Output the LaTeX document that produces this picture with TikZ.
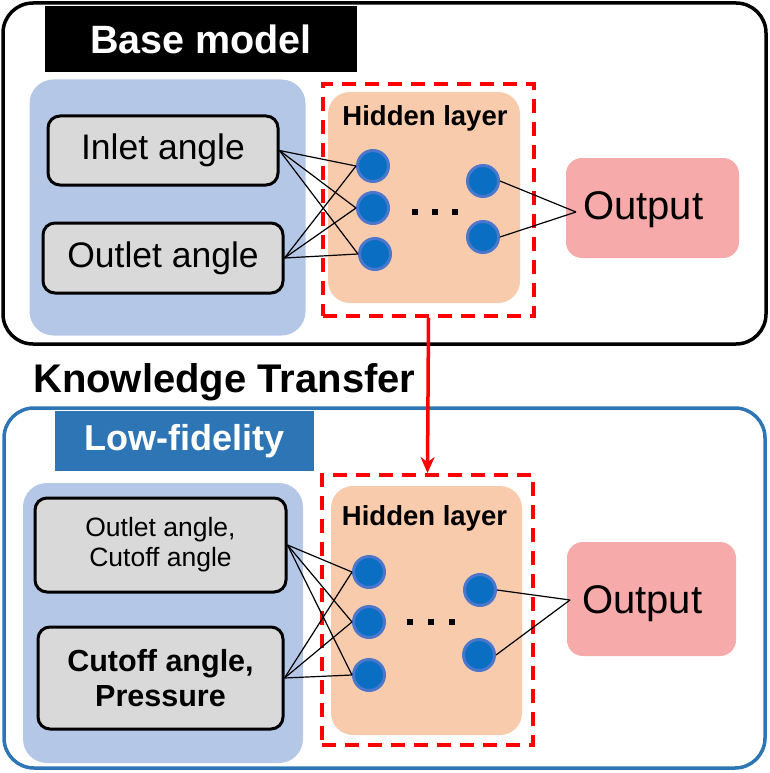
\documentclass[tikz,border=0pt]{standalone}
\usepackage{fontspec}
\setmainfont{Liberation Sans}
\usetikzlibrary{arrows.meta}
\definecolor{inblue}{HTML}{B4C7E7}
\definecolor{boxgray}{HTML}{D9D9D9}
\definecolor{peach}{HTML}{F8CBAD}
\definecolor{outpink}{HTML}{F7AAAA}
\definecolor{lfblue}{HTML}{2E75B6}
\definecolor{nodefill}{HTML}{0A6FC2}
\definecolor{nodering}{HTML}{4A76CC}
\tikzset{
  box/.style={rectangle,inner sep=0pt,align=center},
  outer/.style={box,draw,line width=3.5pt,rounded corners=30pt},
  region/.style={box,fill=inblue,rounded corners=24pt},
  inbox/.style={box,fill=boxgray,draw=black,line width=3pt,rounded corners=12pt},
  redbox/.style={box,draw=red,line width=4pt,dash pattern=on 14pt off 9pt},
  hidbox/.style={box,fill=peach,rounded corners=22pt},
  outbox/.style={box,fill=outpink,rounded corners=16pt},
  neuron/.style={circle,fill=nodefill,draw=nodering,line width=3pt,minimum size=31pt,inner sep=0pt},
  dotsq/.style={rectangle,fill=black,minimum size=6pt,inner sep=0pt},
  wire/.style={line width=1.2pt},
}
\begin{document}
\begin{tikzpicture}[x=1pt,y=-1pt]
\useasboundingbox (0,0) rectangle (770,773);
% ---------- top panel ----------
\node[outer,minimum width=763pt,minimum height=341pt] (topouter) at (384.5,173.5) {};
\node[box,fill=black,minimum width=312pt,minimum height=66pt,text=white,font=\bfseries\fontsize{39.5}{44}\selectfont] (basetitle) at (201,39) {Base model};
\node[region,minimum width=276pt,minimum height=256pt] (topregion) at (167.5,207.5) {};
\node[inbox,minimum width=230pt,minimum height=69pt,font=\fontsize{35.5}{40}\selectfont] (inlet) at (163,150.5) {Inlet angle};
\node[inbox,minimum width=240pt,minimum height=70pt,font=\fontsize{35.5}{40}\selectfont] (outlet) at (163,258) {Outlet angle};
\node[hidbox,minimum width=192pt,minimum height=211pt] (tophid) at (424,197.5) {};
\node[redbox,minimum width=211pt,minimum height=232pt] (topred) at (428.5,200) {};
\node[font=\bfseries\fontsize{27.5}{30}\selectfont] (tophidtext) at (425,118) {Hidden layer};
\node[neuron] (ta) at (373,166) {};
\node[neuron] (tb) at (373,208) {};
\node[neuron] (tc) at (375,254) {};
\node[neuron] (td) at (483,181) {};
\node[neuron] (te) at (483,237) {};
\node[dotsq] (tdot1) at (415,212) {};
\node[dotsq] (tdot2) at (435,212) {};
\node[dotsq] (tdot3) at (455,212) {};
\node[outbox,minimum width=173pt,minimum height=100pt] (topout) at (652.5,208) {};
\node[anchor=west,inner sep=0pt,font=\fontsize{40}{46}\selectfont] (topouttext) at (583,210) {Output};
\coordinate (topconv) at (576,212);
\foreach \s in {inlet,outlet}{
  \foreach \t in {ta,tb,tc}{
    \draw[wire] (\s.east) -- (\t.west);
  }
}
\draw[wire] (td.east) -- (topconv);
\draw[wire] (te.east) -- (topconv);
% ---------- knowledge transfer ----------
\node[anchor=base west,inner sep=0pt,font=\bfseries\fontsize{40}{44}\selectfont] (kt) at (33,392) {Knowledge Transfer};
% ---------- bottom panel ----------
\node[outer,draw=lfblue,minimum width=761pt,minimum height=360pt] (botouter) at (384.5,588) {};
\node[box,fill=lfblue,minimum width=259pt,minimum height=60pt,text=white,font=\bfseries\fontsize{36}{40}\selectfont] (lftitle) at (184.5,441) {Low-fidelity};
\node[region,minimum width=280pt,minimum height=280pt] (botregion) at (163,623) {};
\node[inbox,minimum width=251pt,minimum height=94pt,font=\fontsize{26.5}{30}\selectfont] (ocbox) at (160.5,545) {Outlet angle,\\Cutoff angle};
\node[inbox,minimum width=245pt,minimum height=102pt,font=\bfseries\fontsize{30.5}{35}\selectfont] (cpbox) at (160.5,678) {Cutoff angle,\\Pressure};
\node[hidbox,minimum width=191pt,minimum height=249pt] (bothid) at (426.5,610.5) {};
\node[redbox,minimum width=211pt,minimum height=270pt] (botred) at (427.5,610) {};
\node[font=\bfseries\fontsize{27.5}{30}\selectfont] (bothidtext) at (424.5,518) {Hidden layer};
\node[neuron] (ba) at (369,572) {};
\node[neuron] (bb) at (369,622) {};
\node[neuron] (bc) at (369,675) {};
\node[neuron] (bd) at (480,590) {};
\node[neuron] (be) at (479,655) {};
\node[dotsq] (bdot1) at (410,622) {};
\node[dotsq] (bdot2) at (431,622) {};
\node[dotsq] (bdot3) at (452,622) {};
\node[outbox,minimum width=169pt,minimum height=114pt] (botout) at (651.5,599) {};
\node[anchor=west,inner sep=0pt,font=\fontsize{40}{46}\selectfont] (botouttext) at (582,604) {Output};
\coordinate (botconv) at (570,600);
\foreach \s in {ocbox,cpbox}{
  \foreach \t in {ba,bb,bc}{
    \draw[wire] (\s.east) -- (\t.west);
  }
}
\draw[wire] (bd.east) -- (botconv);
\draw[wire] (be.east) -- (botconv);
% ---------- transfer arrow ----------
\draw[red,line width=3.5pt,-{Stealth[length=16pt,width=14pt]}] (topred.south) -- (botred.north);
\end{tikzpicture}
\end{document}
